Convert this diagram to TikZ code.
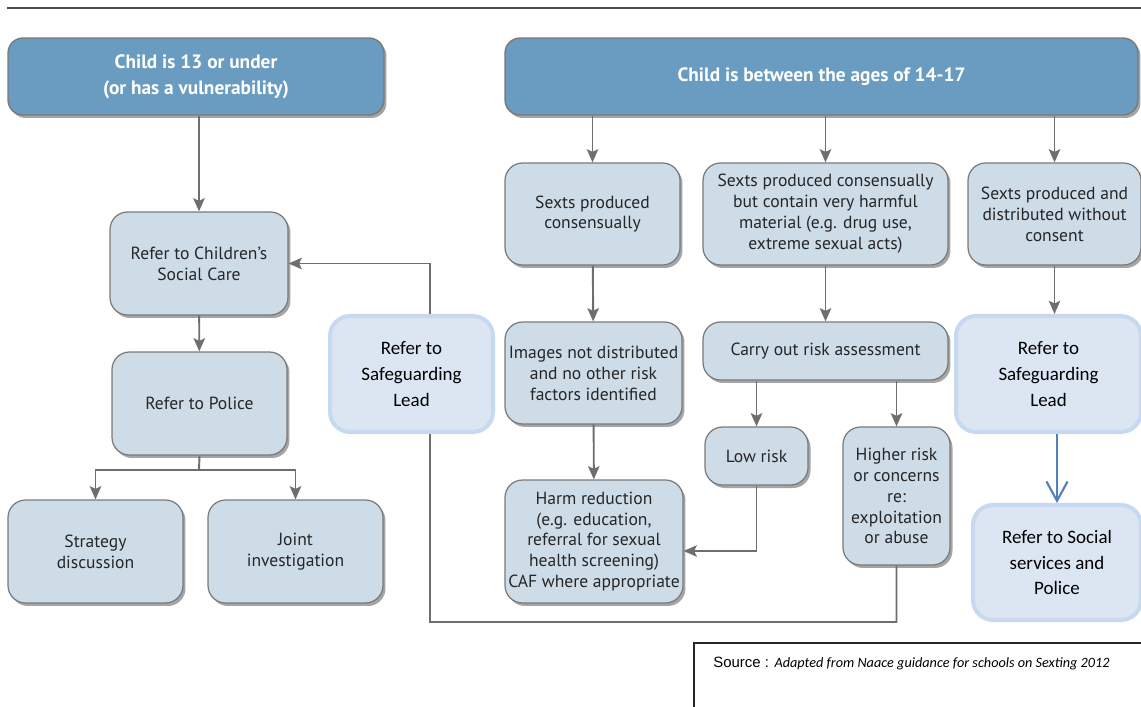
\documentclass[tikz,border=0pt]{standalone}
\usepackage{fontspec}
\setmainfont{PT Sans}
\newfontfamily\calfont{Carlito}
\newfontfamily\arialfont{Liberation Sans}
\usetikzlibrary{arrows.meta, shadows}

\definecolor{headblue}{HTML}{6A9BC0}
\definecolor{boxfill}{HTML}{CEDCE8}
\definecolor{boxline}{HTML}{7A7A7A}
\definecolor{leadfill}{HTML}{DCE6F2}
\definecolor{leadline}{HTML}{C6D9F1}
\definecolor{arrgray}{HTML}{6E6E6E}
\definecolor{refblue}{HTML}{4F81BD}

\tikzset{
  headbox/.style={draw=boxline, line width=0.8pt, fill=headblue, rounded corners=0.3cm,
    text=white, font=\fontsize{11}{14.7}\selectfont\bfseries, align=center,
    drop shadow={shadow xshift=0.05cm, shadow yshift=-0.06cm, fill=black!70, opacity=0.5}},
  stepbox/.style={draw=boxline, line width=0.7pt, fill=boxfill, rounded corners=0.35cm,
    text=black!85, font=\fontsize{10}{11.9}\selectfont, align=center, inner sep=1pt,
    drop shadow={shadow xshift=0.05cm, shadow yshift=-0.06cm, fill=black!70, opacity=0.5}},
  leadbox/.style={draw=leadline, line width=2.3pt, fill=leadfill, rounded corners=0.4cm,
    font=\calfont\fontsize{10.8}{14.7}\selectfont, align=center},
  arr/.style={draw=arrgray, line width=1.1pt, -{Stealth[length=7.5pt,width=6.5pt,inset=1.5pt]}},
  link/.style={draw=arrgray, line width=1.1pt},
}

\begin{document}
\begin{tikzpicture}[x=0.02cm, y=-0.02cm]
  \useasboundingbox (0,0) rectangle (1141,706);
  \draw[line width=1pt, black!70] (7,8) -- (1141,8); % rule

  % heads
  \node[headbox, minimum width=7.52cm, minimum height=1.54cm] (young) at (196,76.5)
    {Child is 13 or under\\(or has a vulnerability)};
  \node[headbox, minimum width=12.66cm, minimum height=1.54cm] (older) at (821.5,76.5)
    {Child is between the ages of 14-17};

  % 13 or under
  \node[stepbox, minimum width=3.56cm, minimum height=2.06cm] (social) at (199,263.5)
    {Refer to Children’s\\Social Care};
  \node[stepbox, minimum width=3.5cm, minimum height=2.06cm] (police) at (199.5,403.5)
    {Refer to Police};
  \node[stepbox, minimum width=3.5cm, minimum height=2.06cm] (strategy) at (95.5,551.5)
    {Strategy\\discussion};
  \node[stepbox, minimum width=3.5cm, minimum height=2.06cm] (joint) at (295.5,551.5)
    {Joint\\investigation};
  \node[leadbox, minimum width=3.26cm, minimum height=2.32cm] (leadA) at (411.5,374)
    {Refer to\\Safeguarding\\Lead};

  % 14-17
  \node[stepbox, minimum width=3.5cm, minimum height=2.04cm] (consent) at (592.5,214)
    {Sexts produced\\consensually};
  \node[stepbox, minimum width=4.9cm, minimum height=2.04cm] (harmful) at (825.5,214)
    {Sexts produced consensually\\but contain very harmful\\material (e.g. drug use,\\extreme sexual acts)};
  \node[stepbox, minimum width=3.46cm, minimum height=2.04cm] (noconsent) at (1054.5,214)
    {Sexts produced and\\distributed without\\consent};
  \node[stepbox, minimum width=3.54cm, minimum height=2.04cm] (images) at (593.5,373)
    {Images not distributed\\and no other risk\\factors identified};
  \node[stepbox, minimum width=4.9cm, minimum height=1.16cm] (assess) at (825.5,351)
    {Carry out risk assessment};
  \node[leadbox, minimum width=3.7cm, minimum height=2.32cm] (leadB) at (1048.5,374)
    {Refer to\\Safeguarding\\Lead};
  \node[stepbox, minimum width=2.06cm, minimum height=1.16cm] (low) at (756.5,456)
    {Low risk};
  \node[stepbox, minimum width=2.14cm, minimum height=2.76cm] (high) at (896.5,496)
    {Higher risk\\or concerns\\re:\\exploitation\\or abuse};
  \node[stepbox, minimum width=3.56cm, minimum height=2.46cm] (harm) at (594,541.5)
    {Harm reduction\\(e.g. education,\\referral for sexual\\health screening)\\CAF where appropriate};
  \node[leadbox, minimum width=3.36cm, minimum height=2.3cm] (services) at (1057,562.5)
    {Refer to Social\\services and\\Police};

  % arrows left
  \draw[arr] (young.south -| social.north) -- (social.north);
  \draw[arr] (social) -- (police);
  \coordinate (split) at (199,470);
  \draw[link] (police.south) -- (split);
  \draw[arr] (split) -| (strategy.north);
  \draw[arr] (split) -| (joint.north);
  \draw[arr] ([xshift=0.37cm]leadA.north) |- (social.east);

  % arrows right
  \draw[arr] (consent.north |- older.south) -- (consent.north);
  \draw[arr] (harmful.north |- older.south) -- (harmful.north);
  \draw[arr] (noconsent.north |- older.south) -- (noconsent.north);
  \draw[arr] (consent) -- (images);
  \draw[arr] (harmful.south) -- (assess.north);
  \draw[arr] (noconsent.south) -- (noconsent.south |- leadB.north);
  \draw[arr] (low.north |- assess.south) -- (low.north);
  \draw[arr] (high.north |- assess.south) -- (high.north);
  \draw[arr] (images) -- (harm);
  \draw[arr] (low.south) |- ([yshift=-0.19cm]harm.east);
  \coordinate (loop) at (430,622);
  \draw[link] (high.south) |- (loop) -- ([xshift=0.37cm]leadA.south);
  \draw[refblue, line width=1.2pt, -{Straight Barb[length=11pt,width=12pt]}]
    (services.north |- leadB.south) -- (services.north);

  % source
  \draw[line width=0.9pt, black!85] (694,720) -- (694,643) -- (1150,643);
  \node[anchor=west, inner sep=0pt] (src) at (713,663)
    {\arialfont\fontsize{8.5}{9}\selectfont Source : \calfont\itshape\fontsize{8.1}{9}\selectfont Adapted from Naace guidance for schools on Sexting 2012};
\end{tikzpicture}
\end{document}
